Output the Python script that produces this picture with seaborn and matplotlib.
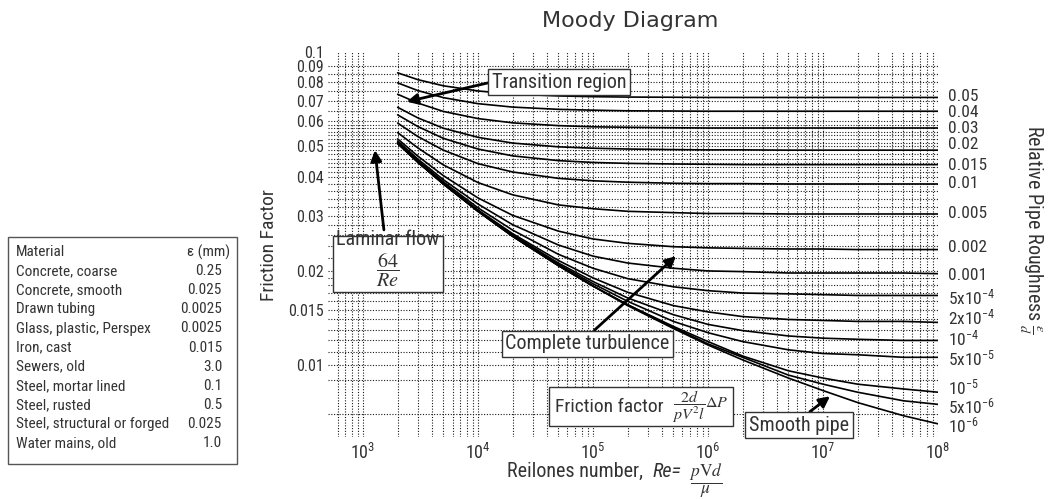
import matplotlib
matplotlib.use("Agg")
import matplotlib.pyplot as plt
import seaborn as sns
import pandas as pd
from matplotlib import font_manager as fm
from matplotlib.ticker import FixedLocator, FixedFormatter, NullFormatter
from matplotlib.patches import Rectangle

# ---------------- values ----------------
reynolds = [2e3, 3e3, 5e3, 1e4, 2e4, 5e4, 1e5, 2e5, 5e5, 1e6, 2e6, 5e6, 1e7, 2e7, 5e7, 1e8]

f_r_0_05 = [0.0858, 0.0816, 0.0780, 0.0751, 0.0734, 0.0724, 0.0720, 0.0718, 0.0717, 0.0716, 0.0716, 0.0716, 0.0716, 0.0716, 0.0716, 0.0716]
f_r_0_04 = [0.0797, 0.0753, 0.0715, 0.0684, 0.0667, 0.0656, 0.0652, 0.0649, 0.0648, 0.0647, 0.0647, 0.0647, 0.0647, 0.0647, 0.0647, 0.0647]
f_r_0_03 = [0.0733, 0.0687, 0.0646, 0.0613, 0.0594, 0.0582, 0.0577, 0.0575, 0.0573, 0.0572, 0.0572, 0.0572, 0.0572, 0.0572, 0.0572, 0.0572]
f_r_0_02 = [0.0666, 0.0616, 0.0571, 0.0534, 0.0512, 0.0498, 0.0493, 0.0490, 0.0488, 0.0487, 0.0487, 0.0486, 0.0486, 0.0486, 0.0486, 0.0486]
f_r_0_015 = [0.0630, 0.0578, 0.0530, 0.0490, 0.0466, 0.0450, 0.0444, 0.0441, 0.0439, 0.0438, 0.0437, 0.0437, 0.0437, 0.0437, 0.0437, 0.0437]
f_r_0_01 = [0.0593, 0.0537, 0.0486, 0.0440, 0.0414, 0.0395, 0.0388, 0.0384, 0.0381, 0.0380, 0.0380, 0.0379, 0.0379, 0.0379, 0.0379, 0.0379]
f_r_0_005 = [0.0553, 0.0494, 0.0436, 0.0383, 0.0350, 0.0325, 0.0316, 0.0310, 0.0307, 0.0305, 0.0305, 0.0304, 0.0304, 0.0304, 0.0304, 0.0304]
f_r_0_002 = [0.0528, 0.0465, 0.0403, 0.0342, 0.0301, 0.0268, 0.0253, 0.0245, 0.0239, 0.0237, 0.0236, 0.0235, 0.0235, 0.0234, 0.0234, 0.0234]
f_r_0_001 = [0.0520, 0.0455, 0.0391, 0.0327, 0.0281, 0.0242, 0.0223, 0.0212, 0.0204, 0.0200, 0.0199, 0.0197, 0.0197, 0.0197, 0.0197, 0.0196]
f_r_5e_4 = [0.0515, 0.0450, 0.0385, 0.0318, 0.0270, 0.0226, 0.0204, 0.0189, 0.0178, 0.0173, 0.0170, 0.0169, 0.0168, 0.0167, 0.0167, 0.0167]
f_r_2e_4 = [0.0513, 0.0447, 0.0381, 0.0313, 0.0263, 0.0216, 0.0190, 0.0171, 0.0155, 0.0148, 0.0143, 0.0140, 0.0139, 0.0138, 0.0138, 0.0137]
f_r_1e_4 = [0.0512, 0.0446, 0.0380, 0.0312, 0.0261, 0.0212, 0.0185, 0.0164, 0.0145, 0.0135, 0.0129, 0.0124, 0.0122, 0.0121, 0.0120, 0.0120]
f_r_5e_5 = [0.0511, 0.0445, 0.0379, 0.0311, 0.0259, 0.0210, 0.0182, 0.0160, 0.0138, 0.0127, 0.0119, 0.0112, 0.0109, 0.0108, 0.0106, 0.0106]
f_r_1e_5 = [0.0511, 0.0445, 0.0379, 0.0310, 0.0258, 0.0208, 0.0179, 0.0156, 0.0133, 0.0119, 0.0107, 0.0096, 0.0091, 0.0087, 0.0084, 0.0082]
f_r_5e_6 = [0.0511, 0.0445, 0.0379, 0.0310, 0.0258, 0.0208, 0.0179, 0.0156, 0.0132, 0.0117, 0.0106, 0.0093, 0.0087, 0.0082, 0.0077, 0.0075]
f_r_1e_6 = [0.0511, 0.0445, 0.0379, 0.0310, 0.0258, 0.0208, 0.0179, 0.0155, 0.0131, 0.0116, 0.0104, 0.0091, 0.0083, 0.0076, 0.0069, 0.0065]

roughness_labels = ["0.05", "0.04", "0.03", "0.02", "0.015", "0.01", "0.005", "0.002", "0.001",
                    r"5x$10^{-4}$", r"2x$10^{-4}$", r"$10^{-4}$", r"5x$10^{-5}$",
                    r"$10^{-5}$", r"5x$10^{-6}$", r"$10^{-6}$"]
label_friction = [0.0723, 0.0643, 0.0570, 0.0505, 0.0433, 0.0381, 0.0306, 0.0237, 0.0194,
                  0.0165, 0.0142, 0.0122, 0.0105, 0.0085, 0.0074, 0.0064]

x_major = [1e3, 1e4, 1e5, 1e6, 1e7, 1e8]
x_major_labels = [r"$10^{3}$", r"$10^{4}$", r"$10^{5}$", r"$10^{6}$", r"$10^{7}$", r"$10^{8}$"]
x_minor = [6e2, 7e2, 8e2, 9e2] + [m * 10 ** k for k in range(3, 8) for m in range(2, 10)]
y_ticks = [0.01, 0.015, 0.02, 0.03, 0.04, 0.05, 0.06, 0.07, 0.08, 0.09, 0.1]
y_tick_labels = ["0.01", "0.015", "0.02", "0.03", "0.04", "0.05", "0.06", "0.07", "0.08", "0.09", "0.1"]
y_grid = [0.007, 0.009, 0.01, 0.011, 0.012, 0.013, 0.014, 0.015, 0.016, 0.017, 0.018, 0.019,
          0.02, 0.022, 0.024, 0.026, 0.028, 0.03, 0.032, 0.034, 0.036, 0.038,
          0.04, 0.0414, 0.0428, 0.0443, 0.0457, 0.0471, 0.0486, 0.05,
          0.0514, 0.0529, 0.0543, 0.0557, 0.0571, 0.0586, 0.06,
          0.065, 0.07, 0.075, 0.08, 0.085, 0.09]

materials = ["Concrete, coarse", "Concrete, smooth", "Drawn tubing", "Glass, plastic, Perspex",
             "Iron, cast", "Sewers, old", "Steel, mortar lined", "Steel, rusted",
             "Steel, structural or forged", "Water mains, old"]
material_eps_mm = ["0.25", "0.025", "0.0025", "0.0025", "0.015", "3.0", "0.1", "0.5", "0.025", "1.0"]

curves = [f_r_0_05, f_r_0_04, f_r_0_03, f_r_0_02, f_r_0_015, f_r_0_01, f_r_0_005, f_r_0_002,
          f_r_0_001, f_r_5e_4, f_r_2e_4, f_r_1e_4, f_r_5e_5, f_r_1e_5, f_r_5e_6, f_r_1e_6]

# ---------------- style ----------------
sns.set_style("white")
available = {f.name for f in fm.fontManager.ttflist}
COND = "DejaVu Sans"
for cand in ["Roboto Condensed", "Archivo Narrow", "PT Sans Narrow", "Fira Sans Condensed",
             "IBM Plex Sans Condensed", "Encode Sans Condensed", "Asap Condensed",
             "Liberation Sans Narrow", "Barlow Condensed"]:
    if cand in available:
        COND = cand
        break
plt.rcParams["font.family"] = [COND, "DejaVu Sans"]
plt.rcParams["mathtext.fontset"] = "custom"
plt.rcParams["mathtext.rm"] = COND
plt.rcParams["mathtext.it"] = COND + ":italic"
plt.rcParams["mathtext.bf"] = COND + ":bold"
plt.rcParams["mathtext.sf"] = COND
TXT = "#333333"

W, H = 1054, 499
fig = plt.figure(figsize=(W / 100, H / 100), dpi=100)
fig.patch.set_facecolor("white")


def px(x, y):
    return (x / W, 1 - y / H)


ax = fig.add_axes([328.4 / W, 1 - 437 / H, (938 - 328.4) / W, (437 - 52) / H])
ax.set_xscale("log")
ax.set_yscale("log")

rows = []
for lab, vals in zip(roughness_labels, curves):
    for re, f in zip(reynolds, vals):
        rows.append({"curve": lab, "Re": re, "f": f})
df = pd.DataFrame(rows)

sns.lineplot(data=df, x="Re", y="f", units="curve", estimator=None, sort=False,
             color="black", lw=1.2, ax=ax, legend=False)

ax.set_xlim(5e2, 1e8)
ax.set_ylim(0.0059, 0.1)
for s in ax.spines.values():
    s.set_visible(False)

ax.xaxis.set_major_locator(FixedLocator(x_major))
ax.xaxis.set_major_formatter(FixedFormatter(x_major_labels))
ax.xaxis.set_minor_locator(FixedLocator(x_minor))
ax.xaxis.set_minor_formatter(NullFormatter())
ax.yaxis.set_major_locator(FixedLocator(y_ticks))
ax.yaxis.set_major_formatter(FixedFormatter(y_tick_labels))
ax.yaxis.set_minor_locator(FixedLocator(y_grid))
ax.yaxis.set_minor_formatter(NullFormatter())
ax.yaxis.remove_overlapping_locs = False

grid_kw = dict(color="#1a1a1a", lw=0.8, linestyle=(0, (1, 1.5)))
ax.grid(True, which="both", axis="x", **grid_kw)
ax.grid(True, which="minor", axis="y", **grid_kw)
ax.grid(False, which="major", axis="y")
ax.tick_params(which="both", length=0)
ax.tick_params(axis="y", labelsize=11.5, pad=3, labelcolor=TXT)
ax.tick_params(axis="x", labelsize=13, pad=4, labelcolor=TXT)
ax.set_xlabel("")
ax.set_ylabel("")

# right-hand roughness labels
for lab, yv in zip(roughness_labels, label_friction):
    ax.text(1.22e8, yv, lab, ha="left", va="center", fontsize=12.5, color=TXT, clip_on=False)

# annotations
box = dict(boxstyle="square,pad=0.18", fc="white", ec="#333333", lw=1)
arrow = dict(arrowstyle="-|>", color="black", lw=2, mutation_scale=16, shrinkA=0, shrinkB=0)
FS = 14.5

ax.annotate("Transition region", xy=(2.4e3, 0.0694), xytext=(5.06e4, 0.0802),
            ha="center", va="center", fontsize=FS, color=TXT, bbox=box,
            arrowprops=dict(arrow, relpos=(0.0, 0.5)))
ax.annotate("Laminar flow\n" + r"$\dfrac{64}{Re}$", xy=(1.27e3, 0.0486), xytext=(1.65e3, 0.0218),
            ha="center", va="center", ma="center", fontsize=FS, color=TXT, bbox=box,
            math_fontfamily="stix", linespacing=1.1,
            arrowprops=dict(arrow, relpos=(0.46, 1.0)))
ax.annotate("Complete turbulence", xy=(5.27e5, 0.0223), xytext=(8.95e4, 0.01171),
            ha="center", va="center", fontsize=FS, color=TXT, bbox=box,
            arrowprops=dict(arrow, relpos=(0.515, 1.0)))
ax.annotate("Smooth pipe", xy=(1.15e7, 0.00796), xytext=(6.18e6, 0.00643),
            ha="center", va="center", fontsize=FS, color=TXT, bbox=box, annotation_clip=False,
            arrowprops=dict(arrow, relpos=(0.555, 1.0)))

# friction-factor definition box (text + larger fraction inside one frame)
fig.patches.append(Rectangle(px(549, 426), 184 / W, 39 / H, transform=fig.transFigure,
                             fc="white", ec="#333333", lw=1, zorder=2))
fig.text(*px(555, 406.5), "Friction factor", ha="left", va="center", fontsize=14,
         color=TXT, zorder=3)
fig.text(*px(672, 406.5), r"$\dfrac{2d}{pV^2l}\Delta P$", ha="left", va="center", fontsize=11.5,
         color=TXT, math_fontfamily="stix", zorder=3)

# titles and axis labels
fig.text(*px(630, 21), "Moody Diagram", ha="center", va="center", fontsize=16,
         family="DejaVu Sans", color=TXT)
fig.text(*px(268.5, 245), "Friction Factor", ha="center", va="center", rotation=90,
         fontsize=14, color=TXT)
fig.text(*px(1031, 230), r"Relative Pipe Roughness $\frac{\epsilon}{d}$", ha="center", va="center",
         rotation=270, fontsize=14.5, color=TXT, math_fontfamily="stix")
fig.text(*px(507, 477), "Reilones number,", ha="left", va="baseline", fontsize=14.5, color=TXT)
fig.text(*px(653, 477), "Re=", ha="left", va="baseline", fontsize=14.5, style="italic", color=TXT)
fig.text(*px(689, 481), r"$\dfrac{p\mathrm{V}d}{\mu}$", ha="left", va="center", fontsize=12.5,
         color=TXT, math_fontfamily="stix")

# material table
fig.patches.append(Rectangle(px(8.3, 463.5), (237.3 - 8.3) / W, (463.5 - 237.3) / H,
                             transform=fig.transFigure, fill=False, ec="#555555", lw=1))
TFS = 11
fig.text(*px(16, 252), "Material", ha="left", va="center", fontsize=TFS, color=TXT)
fig.text(*px(230, 252), "ε (mm)", ha="right", va="center", fontsize=TFS, color=TXT)
for i, (m, e) in enumerate(zip(materials, material_eps_mm)):
    yy = 271.2 + i * 19.1
    fig.text(*px(16, yy), m, ha="left", va="center", fontsize=TFS, color=TXT)
    fig.text(*px(222, yy), e, ha="right", va="center", fontsize=TFS, color=TXT)

fig.savefig("out.png", dpi=100, facecolor="white")
